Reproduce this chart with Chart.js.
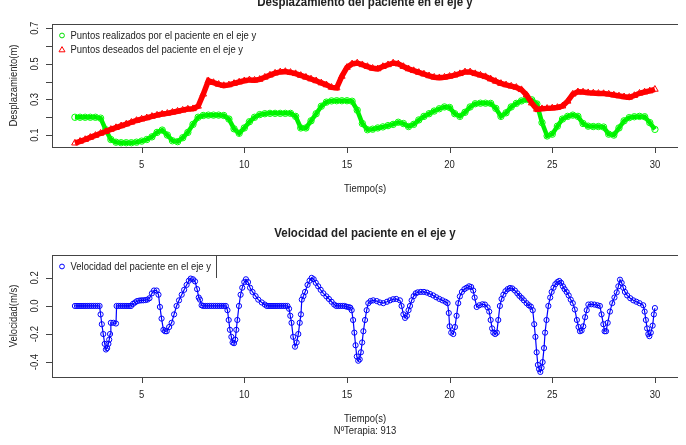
<!DOCTYPE html>
<html>
<head>
<meta charset="utf-8">
<script src="https://cdn.jsdelivr.net/npm/chart.js@4/dist/chart.umd.min.js"></script>
<style>
  body { margin: 0; background: #fff; width: 686px; height: 445px; overflow: hidden; position: relative; }
  canvas { position: absolute; left: 0; }
</style>
</head>
<body>
<canvas id="despChart" width="686" height="215" style="top:0"></canvas>
<canvas id="velChart" width="686" height="230" style="top:215px"></canvas>
<script>
// x ticks shared by both panels
const xTicks = [5, 10, 15, 20, 25, 30];

// top panel: desplazamiento (m)
const tiempo = [1.75,2,2.25,2.5,2.75,3,3.25,3.5,3.75,4,4.25,4.5,4.75,5,5.25,5.5,5.75,6,6.25,6.5,6.75,7,7.25,7.5,7.75,
  8,8.25,8.5,8.75,9,9.25,9.5,9.75,10,10.25,10.5,10.75,11,11.25,11.5,11.75,12,12.25,12.5,12.75,13,13.25,13.5,13.75,
  14,14.25,14.5,14.75,15,15.25,15.5,15.75,16,16.25,16.5,16.75,17,17.25,17.5,17.75,18,18.25,18.5,18.75,19,19.25,19.5,19.75,
  20,20.25,20.5,20.75,21,21.25,21.5,21.75,22,22.25,22.5,22.75,23,23.25,23.5,23.75,24,24.25,24.5,24.75,25,25.25,25.5,25.75,
  26,26.25,26.5,26.75,27,27.25,27.5,27.75,28,28.25,28.5,28.75,29,29.25,29.5,29.75,30];
const realizados = [0.2,0.2,0.2,0.2,0.2,0.195,0.13,0.075,0.06,0.057,0.057,0.057,0.06,0.066,0.075,0.09,0.115,0.128,0.1,0.068,0.063,0.085,0.115,0.16,0.2,
  0.21,0.212,0.212,0.212,0.21,0.19,0.135,0.11,0.14,0.175,0.2,0.215,0.22,0.222,0.222,0.222,0.222,0.222,0.205,0.14,0.14,0.18,0.22,0.262,
  0.285,0.292,0.293,0.293,0.293,0.29,0.24,0.165,0.13,0.133,0.14,0.146,0.153,0.16,0.172,0.165,0.148,0.16,0.185,0.205,0.22,0.235,0.248,0.258,
  0.255,0.22,0.205,0.228,0.258,0.276,0.279,0.279,0.278,0.25,0.205,0.225,0.258,0.278,0.292,0.3,0.298,0.275,0.17,0.095,0.105,0.15,0.19,0.205,
  0.212,0.205,0.165,0.15,0.148,0.148,0.145,0.105,0.1,0.14,0.18,0.198,0.203,0.205,0.203,0.17,0.132];
const deseados = [0.055,0.065,0.075,0.087,0.098,0.11,0.12,0.132,0.142,0.152,0.162,0.172,0.182,0.19,0.197,0.205,0.212,0.218,0.222,0.228,0.234,0.24,0.246,0.248,0.262,
  0.33,0.405,0.395,0.385,0.378,0.382,0.39,0.398,0.405,0.41,0.408,0.413,0.425,0.437,0.448,0.455,0.457,0.452,0.445,0.435,0.425,0.415,0.405,0.393,
  0.382,0.368,0.365,0.43,0.48,0.5,0.505,0.495,0.485,0.475,0.472,0.485,0.495,0.505,0.5,0.485,0.472,0.462,0.452,0.443,0.433,0.425,0.422,0.425,
  0.43,0.437,0.445,0.455,0.455,0.445,0.437,0.428,0.415,0.402,0.39,0.382,0.375,0.368,0.355,0.325,0.28,0.245,0.248,0.25,0.252,0.255,0.263,0.29,
  0.33,0.343,0.342,0.338,0.336,0.334,0.333,0.33,0.325,0.32,0.315,0.312,0.322,0.335,0.342,0.348,0.357];
const despYTicks = [0.1, 0.2, 0.3, 0.4, 0.5, 0.6, 0.7];
const despYLabels = ['0.1', '', '0.3', '', '0.5', '', '0.7'];

// bottom panel: velocidad (m/s)
const tiempoVel = [
  1.75,1.85,1.95,2.05,2.15,2.25,2.35,2.45,2.55,2.65,2.75,2.85,2.95,
  3.0,3.06,3.13,3.2,3.26,3.32,3.38,3.42,3.46,3.5,3.62,3.75,
  3.78,3.88,3.98,4.08,4.18,4.28,4.38,4.48,
  4.58,4.68,4.78,4.88,4.98,5.08,5.18,5.28,5.38,5.5,5.6,5.73,5.82,5.89,5.97,6.06,6.14,6.22,6.34,6.46,6.58,6.7,6.82,6.95,7.07,7.19,7.3,7.39,7.5,7.6,7.7,7.78,7.84,7.92,
  8.0,8.1,8.2,8.3,8.4,8.5,8.6,8.7,8.8,8.9,9.0,9.1,
  9.18,9.24,9.3,9.37,9.43,9.5,9.56,9.61,9.66,9.74,9.82,9.9,10.0,10.08,10.18,10.28,10.4,10.55,10.68,10.85,11.0,
  11.1,11.2,11.3,11.4,11.5,11.6,11.7,11.8,11.9,12.0,12.1,
  12.18,12.24,12.3,12.38,12.47,12.55,12.63,12.7,12.76,12.8,12.88,12.96,13.08,13.18,13.28,13.38,13.48,13.6,13.72,13.85,14.0,14.12,14.25,14.38,
  14.48,14.58,14.68,14.78,14.88,14.98,15.08,15.16,
  15.23,15.3,15.36,15.42,15.48,15.55,15.62,15.68,15.74,15.8,15.88,15.96,16.04,16.15,16.28,16.45,16.6,16.77,16.95,17.1,17.25,17.4,17.58,17.66,17.75,17.83,17.92,18.0,18.07,18.15,18.25,18.35,18.45,18.6,18.75,18.9,19.05,19.2,19.35,19.5,19.65,19.8,19.9,
  19.96,20.0,20.08,20.18,20.26,20.34,20.42,20.5,20.6,20.72,20.83,20.95,21.05,21.15,21.22,21.32,21.45,21.6,21.72,21.85,21.93,22.0,22.07,22.13,22.22,22.3,22.37,22.45,22.53,22.62,22.72,22.83,22.94,23.05,23.18,23.3,23.4,23.51,23.62,23.75,23.86,23.96,
  24.05,24.12,24.18,24.24,24.3,24.36,24.42,24.48,24.53,24.6,24.65,24.72,24.81,24.9,24.97,25.06,25.15,25.25,25.34,25.43,25.52,25.6,25.7,25.8,25.9,26.0,26.1,26.2,26.28,26.35,26.43,26.51,26.6,26.68,26.76,26.9,27.05,27.2,27.32,
  27.4,27.49,27.55,27.62,27.7,27.81,27.92,28.03,28.14,28.22,28.3,28.38,28.46,28.54,28.65,28.8,28.95,29.1,29.25,29.43,29.5,29.56,29.62,29.68,29.73,29.8,29.89,29.95,30.0];
const velocidad = [
  0,0,0,0,0,0,0,0,0,0,0,0,0,
  -0.06,-0.13,-0.2,-0.27,-0.31,-0.3,-0.27,-0.24,-0.2,-0.12,-0.12,-0.125,
  0,0,0,0,0,0,0,0,
  0.015,0.025,0.035,0.038,0.04,0.04,0.042,0.045,0.055,0.09,0.11,0.11,0.08,-0.007,-0.09,-0.17,-0.18,-0.18,-0.15,-0.12,-0.06,0,0.04,0.08,0.115,0.15,0.18,0.195,0.19,0.175,0.12,0.06,0.045,0.005,
  0,0,0,0,0,0,0,0,0,0,0,0,
  -0.03,-0.1,-0.17,-0.22,-0.26,-0.265,-0.24,-0.17,-0.1,0,0.08,0.13,0.17,0.19,0.17,0.13,0.1,0.07,0.045,0.025,0.01,
  0,0,0,0,0,0,0,0,0,0,0,
  -0.02,-0.07,-0.12,-0.22,-0.29,-0.26,-0.2,-0.12,-0.06,0.045,0.07,0.1,0.15,0.18,0.2,0.19,0.165,0.14,0.115,0.09,0.068,0.05,0.03,0.01,
  0,0,0,0,0,-0.005,-0.008,-0.012,
  -0.03,-0.1,-0.19,-0.28,-0.36,-0.39,-0.38,-0.33,-0.26,-0.18,-0.1,-0.03,0.02,0.035,0.04,0.035,0.025,0.02,0.03,0.04,0.048,0.05,0.04,0,-0.06,-0.085,-0.07,-0.03,0,0.04,0.07,0.09,0.097,0.1,0.1,0.095,0.085,0.075,0.062,0.05,0.04,0.03,0.02,
  -0.05,-0.145,-0.19,-0.2,-0.15,-0.07,0.02,0.068,0.1,0.12,0.13,0.14,0.135,0.11,0.06,-0.007,0.005,0.012,0.01,-0.01,-0.04,-0.1,-0.16,-0.19,-0.2,-0.19,-0.1,0,0.05,0.08,0.105,0.12,0.128,0.125,0.11,0.09,0.072,0.057,0.04,0.02,0.005,-0.005,
  -0.03,-0.13,-0.22,-0.33,-0.42,-0.45,-0.47,-0.44,-0.4,-0.3,-0.19,-0.1,0,0.06,0.1,0.13,0.155,0.17,0.178,0.165,0.14,0.12,0.1,0.075,0.045,0.02,-0.025,-0.1,-0.15,-0.18,-0.175,-0.145,-0.08,-0.03,0.01,0.012,0.01,0.005,0,
  -0.06,-0.13,-0.18,-0.18,-0.12,-0.04,0.02,0.06,0.097,0.14,0.187,0.165,0.13,0.1,0.075,0.055,0.04,0.03,0.02,0.005,-0.04,-0.1,-0.16,-0.2,-0.215,-0.19,-0.14,-0.06,-0.015];
const velYTicks = [-0.4, -0.2, 0, 0.2];
const velYLabels = ['-0.4', '-0.2', '0.0', '0.2'];

const FONT = '"Liberation Sans", Arial, sans-serif';
const TXT = '#222';
const SMALL = '11px ' + FONT;
const NARROW = 0.86;   // the reference text is condensed

function pts(xs, ys){
  const n = Math.min(xs.length, ys.length);
  const out = [];
  for (let i = 0; i < n; i++) out.push({ x: xs[i], y: ys[i] });
  return out;
}

// text squeezed horizontally around its anchor point, optionally rotated
function squeezed(ctx, text, x, y, sx, rot){
  ctx.save();
  ctx.translate(x, y);
  if (rot) ctx.rotate(rot);
  ctx.scale(sx, 1);
  ctx.fillText(text, 0, 0);
  ctx.restore();
}

function drawMarker(ctx, kind, color, x, y){
  ctx.save();
  ctx.strokeStyle = color;
  ctx.lineWidth = 1;
  ctx.beginPath();
  if (kind === 'triangle'){
    ctx.moveTo(x, y - 3.2); ctx.lineTo(x + 3, y + 2); ctx.lineTo(x - 3, y + 2); ctx.closePath();
  } else {
    ctx.arc(x, y, 2.4, 0, Math.PI * 2);
  }
  ctx.stroke();
  ctx.restore();
}

// draws the R-style frame, ticks, titles and legend
const rDecor = {
  id: 'rDecor',
  afterDraw(chart, args, o){
    const { ctx, chartArea: a } = chart;
    const x = chart.scales.x, y = chart.scales.y;
    const cx = (a.left + a.right) / 2;
    ctx.save();
    ctx.strokeStyle = '#444';
    ctx.lineWidth = 1;
    ctx.beginPath();
    ctx.moveTo(a.left, a.top + 0.5); ctx.lineTo(a.right, a.top + 0.5);
    ctx.moveTo(a.left + 0.5, a.top); ctx.lineTo(a.left + 0.5, a.bottom + 1);
    ctx.moveTo(a.left, a.bottom + 0.5); ctx.lineTo(a.right, a.bottom + 0.5);
    xTicks.forEach(v => {
      const px = Math.round(x.getPixelForValue(v)) + 0.5;
      ctx.moveTo(px, a.bottom); ctx.lineTo(px, a.bottom + 6);
    });
    o.yTicks.forEach(v => {
      const py = Math.round(y.getPixelForValue(v)) + 0.5;
      ctx.moveTo(a.left, py); ctx.lineTo(a.left - 6, py);
    });
    if (o.legendLine){
      ctx.moveTo(o.legendLine + 0.5, a.top); ctx.lineTo(o.legendLine + 0.5, a.top + 23);
    }
    ctx.stroke();

    ctx.fillStyle = TXT;
    ctx.font = SMALL;
    ctx.textAlign = 'center';
    ctx.textBaseline = 'middle';
    xTicks.forEach(v => squeezed(ctx, String(v), x.getPixelForValue(v), a.bottom + 18, NARROW));
    o.yTicks.forEach((v, i) => {
      if (o.yLabels[i]) squeezed(ctx, o.yLabels[i], 35, y.getPixelForValue(v), NARROW, -Math.PI / 2);
    });
    squeezed(ctx, 'Tiempo(s)', cx, a.bottom + 42, NARROW);
    if (o.sub) squeezed(ctx, o.sub, cx, a.bottom + 53.5, NARROW);
    squeezed(ctx, o.yTitle, 14, (a.top + a.bottom) / 2, NARROW, -Math.PI / 2);

    ctx.font = 'bold 12.5px ' + FONT;
    ctx.textBaseline = 'alphabetic';
    squeezed(ctx, o.title, cx, a.top - 18.5, 0.92);

    ctx.font = SMALL;
    ctx.textAlign = 'left';
    ctx.textBaseline = 'middle';
    o.legend.forEach((it, i) => {
      const ly = a.top + 11.5 + i * 14.3;
      drawMarker(ctx, it.marker, it.color, 62, ly);
      ctx.fillStyle = TXT;
      squeezed(ctx, it.text, 70.5, ly, NARROW);
    });
    ctx.restore();
  }
};

Chart.register(rDecor);

new Chart(document.getElementById('despChart'), {
  type: 'scatter',
  data: {
    datasets: [
      {
        label: 'Puntos deseados del paciente en el eje y',
        data: pts(tiempo, deseados),
        showLine: true,
        borderColor: '#ff0000',
        borderWidth: 5.5,
        pointStyle: 'triangle',
        pointRadius: 3.8,
        pointBorderColor: '#ff0000',
        pointBackgroundColor: 'rgba(255,255,255,0)',
        pointBorderWidth: 1,
        order: 0
      },
      {
        label: 'Puntos realizados por el paciente en el eje y',
        data: pts(tiempo, realizados),
        showLine: true,
        borderColor: '#00ee00',
        borderWidth: 4.5,
        pointStyle: 'circle',
        pointRadius: 3.2,
        pointBorderColor: '#00ff00',
        pointBackgroundColor: 'rgba(255,255,255,0)',
        pointBorderWidth: 1,
        order: 1
      }
    ]
  },
  options: {
    responsive: false,
    animation: false,
    devicePixelRatio: 1,
    layout: { padding: { left: 52, right: 8, top: 24, bottom: 68 } },
    scales: {
      x: { type: 'linear', min: 0.633, max: 31.125, display: false },
      y: { type: 'linear', min: 0.033, max: 0.724, display: false }
    },
    plugins: {
      legend: { display: false },
      tooltip: { enabled: false },
      rDecor: {
        title: 'Desplazamiento del paciente en el eje y',
        yTitle: 'Desplazamiento(m)',
        yTicks: despYTicks,
        yLabels: despYLabels,
        legend: [
          { text: 'Puntos realizados por el paciente en el eje y', color: '#00dd00', marker: 'circle' },
          { text: 'Puntos deseados del paciente en el eje y', color: '#ff0000', marker: 'triangle' }
        ]
      }
    }
  }
});

new Chart(document.getElementById('velChart'), {
  type: 'scatter',
  data: {
    datasets: [{
      label: 'Velocidad del paciente en el eje y',
      data: pts(tiempoVel, velocidad),
      showLine: true,
      borderColor: '#0000ff',
      borderWidth: 1.2,
      pointStyle: 'circle',
      pointRadius: 2.6,
      pointBorderColor: '#0000ff',
      pointBackgroundColor: 'rgba(255,255,255,0)',
      pointBorderWidth: 1
    }]
  },
  options: {
    responsive: false,
    animation: false,
    devicePixelRatio: 1,
    layout: { padding: { left: 52, right: 8, top: 40, bottom: 68 } },
    scales: {
      x: { type: 'linear', min: 0.633, max: 31.125, display: false },
      y: { type: 'linear', min: -0.506, max: 0.363, display: false }
    },
    plugins: {
      legend: { display: false },
      tooltip: { enabled: false },
      rDecor: {
        title: 'Velocidad del paciente en el eje y',
        yTitle: 'Velocidad(m/s)',
        yTicks: velYTicks,
        yLabels: velYLabels,
        sub: 'NºTerapia: 913',
        legendLine: 216,
        legend: [
          { text: 'Velocidad del paciente en el eje y', color: '#0000ff', marker: 'circle' }
        ]
      }
    }
  }
});
</script>
</body>
</html>
